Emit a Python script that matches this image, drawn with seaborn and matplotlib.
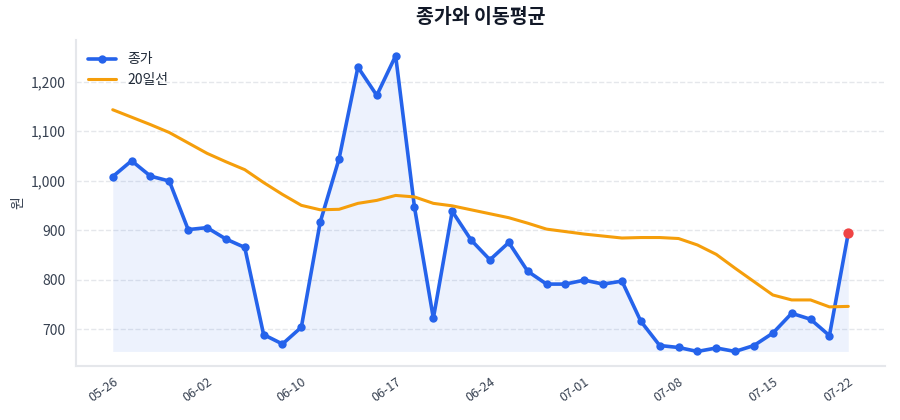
import numpy as np
import pandas as pd
import matplotlib
matplotlib.use("Agg")
import matplotlib.pyplot as plt
import matplotlib.ticker as mticker
import seaborn as sns

# trading days (40 sessions)
dates = ['05-26', '05-27', '05-28', '05-29', '05-30',
         '06-02', '06-03', '06-04', '06-05', '06-09',
         '06-10', '06-11', '06-12', '06-13', '06-16',
         '06-17', '06-18', '06-19', '06-20', '06-23',
         '06-24', '06-25', '06-26', '06-27', '06-30',
         '07-01', '07-02', '07-03', '07-04', '07-07',
         '07-08', '07-09', '07-10', '07-11', '07-14',
         '07-15', '07-16', '07-17', '07-18', '07-22']

close = [1008, 1040, 1009, 999, 901, 905, 882, 865, 689, 670,
         704, 916, 1044, 1229, 1172, 1252, 946, 722, 938, 880,
         840, 875, 817, 791, 791, 799, 791, 797, 716, 667,
         663, 655, 662, 655, 667, 692, 732, 720, 687, 894]

ma20 = [1143, 1128, 1113, 1097, 1076, 1055, 1038, 1022, 996, 972,
        950, 941, 942, 954, 960, 970, 967, 954, 949, 941,
        933, 925, 914, 902, 897, 892, 888, 884, 885, 885,
        883, 870, 851, 823, 796, 769, 759, 759, 745, 746]

df = pd.DataFrame({'date': dates, 'close': close, 'ma20': ma20})
df['i'] = np.arange(len(df))

sns.set_theme(style="white")
plt.rcParams['font.family'] = ['Noto Sans CJK KR', 'DejaVu Sans']
plt.rcParams['axes.unicode_minus'] = False

blue = '#2563eb'
orange = '#f59e0b'
red = '#ef4444'
txt = '#374151'

fig = plt.figure(figsize=(9, 4.2), dpi=100)
ax = fig.add_axes([0.0844, 0.129, 0.899, 0.776])

ax.fill_between(df['i'], df['close'], df['close'].min(), color=blue, alpha=0.08, linewidth=0)
sns.lineplot(data=df, x='i', y='close', ax=ax, color=blue, linewidth=2.6,
             marker='o', markersize=6, markeredgewidth=0, label='종가')
sns.lineplot(data=df, x='i', y='ma20', ax=ax, color=orange, linewidth=2.2, label='20일선')
ax.scatter(df['i'].iloc[-1], df['close'].iloc[-1], s=55, color=red, zorder=5, linewidth=0)

ax.set_ylim(626, 1284)
ax.margins(x=0.05)
tick_idx = list(range(0, len(df), 5)) + [len(df) - 1]
ax.set_xticks(tick_idx)
ax.set_xticklabels([dates[k] for k in tick_idx], rotation=35, ha='right',
                   rotation_mode='anchor', fontsize=9, color=txt)
ax.yaxis.set_major_locator(mticker.MultipleLocator(100))
ax.yaxis.set_major_formatter(mticker.FuncFormatter(lambda v, p: f'{int(v):,}'))
ax.tick_params(axis='y', labelsize=10, colors=txt, length=4, color='#4b5563')
ax.tick_params(axis='x', length=4, color='#4b5563', pad=3)
for lbl in ax.get_yticklabels():
    lbl.set_color(txt)

ax.grid(axis='y', linestyle='--', color='#e5e7eb', linewidth=1)
ax.set_axisbelow(True)
for s in ['top', 'right']:
    ax.spines[s].set_visible(False)
for s in ['left', 'bottom']:
    ax.spines[s].set_color('#e5e7eb')
    ax.spines[s].set_linewidth(1.5)

ax.set_xlabel('')
ax.set_ylabel('원', fontsize=10, color=txt)
ax.set_title('종가와 이동평균', fontsize=14, fontweight='bold', color='#111827', pad=12)

leg = ax.legend(loc='upper left', frameon=False, fontsize=10)
for t in leg.get_texts():
    t.set_color('#1f2937')

fig.savefig('out.png', dpi=100)
